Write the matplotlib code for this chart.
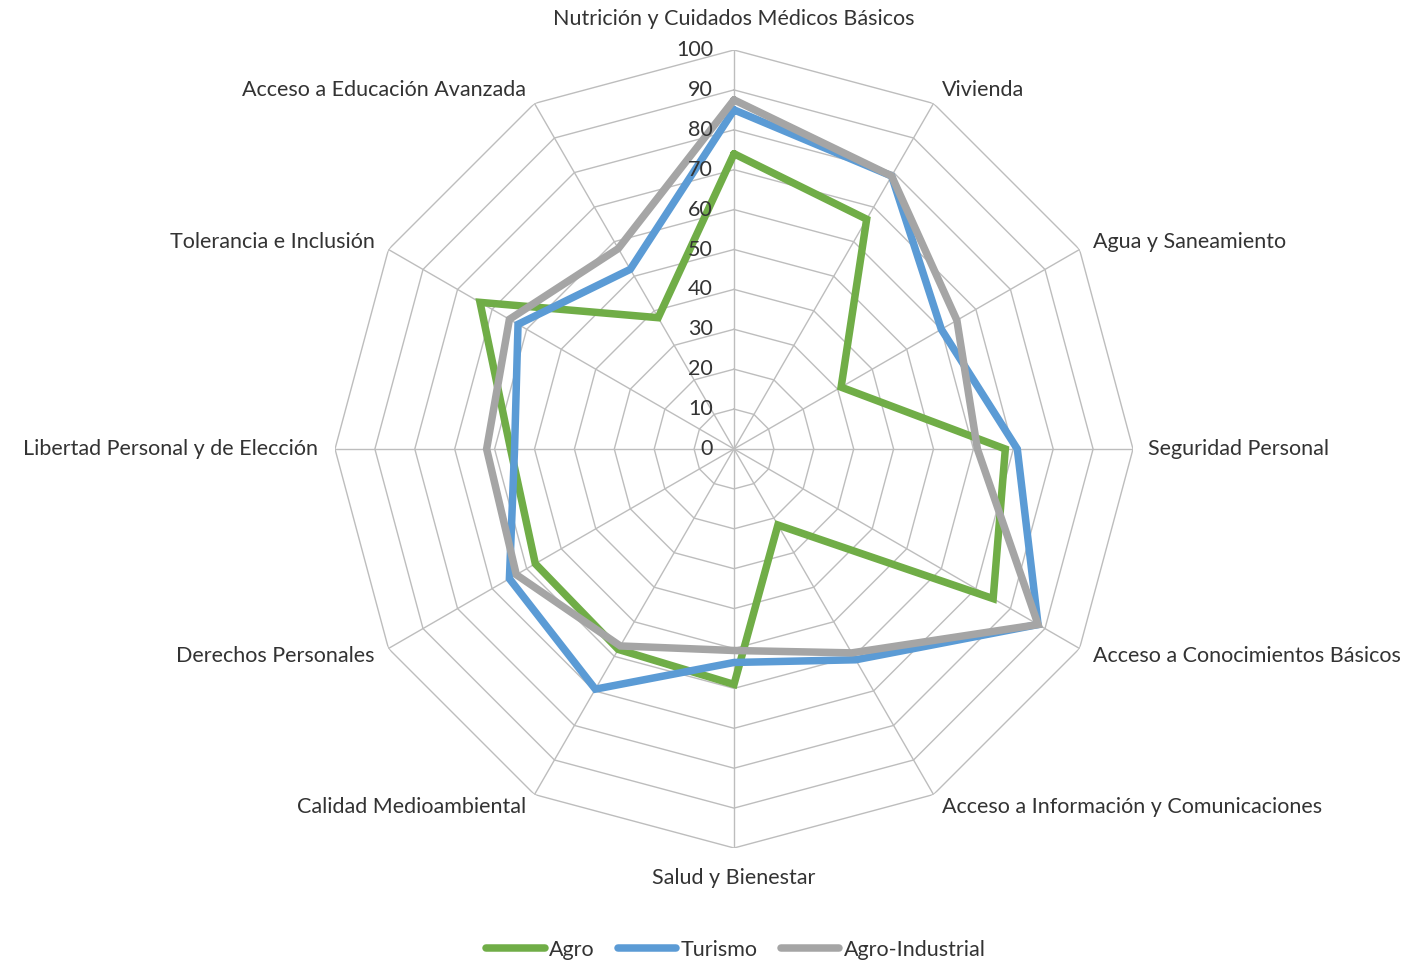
import numpy as np
import matplotlib
matplotlib.use('Agg')
import matplotlib.pyplot as plt

plt.rcParams.update({'font.family': ['Lato', 'DejaVu Sans'], 'font.size': 15.5})

categories = ['Nutrición y Cuidados Médicos Básicos', 'Vivienda', 'Agua y Saneamiento',
              'Seguridad Personal', 'Acceso a Conocimientos Básicos',
              'Acceso a Información y Comunicaciones', 'Salud y Bienestar',
              'Calidad Medioambiental', 'Derechos Personales',
              'Libertad Personal y de Elección', 'Tolerancia e Inclusión',
              'Acceso a Educación Avanzada']
agro = [74, 66.5, 31, 68, 75, 22, 59, 58, 57.5, 56, 73.5, 38]
turismo = [85, 79, 60, 71, 88, 61, 53.5, 69.5, 65, 55, 62.5, 52]
agro_ind = [87.5, 79, 64.5, 61, 88, 59, 50.5, 57, 63, 62, 65, 58]
series_names = ['Agro', 'Turismo', 'Agro-Industrial']
colors = ['#70AD47', '#5B9BD5', '#A5A5A5']
levels = list(range(0, 101, 10))

n = len(categories)
theta = np.arange(n) * 2 * np.pi / n
theta_c = np.append(theta, theta[0])

fig = plt.figure(figsize=(14.10, 9.64), dpi=100)
ax = fig.add_axes([335 / 1410, 116 / 964, 798 / 1410, 798 / 964], projection='polar')
ax.set_theta_offset(np.pi / 2)
ax.set_theta_direction(-1)
ax.set_ylim(0, 100)
ax.axis('off')

grid_col = '#BDBDBD'
for lv in levels[1:]:
    ax.plot(theta_c, [lv] * (n + 1), color=grid_col, lw=1.0, zorder=1)
for t in theta:
    ax.plot([t, t], [0, 100], color=grid_col, lw=1.0, zorder=1)

for vals, name, c in zip([agro, turismo, agro_ind], series_names, colors):
    ax.plot(theta_c, vals + vals[:1], color=c, lw=5.4, label=name,
            solid_joinstyle='miter', solid_capstyle='round', zorder=3)

txt_col = '#333333'
for lv in levels:
    ax.annotate(str(lv), (0, lv), xytext=(-21, 0), textcoords='offset pixels',
                ha='right', va='center', color=txt_col)

# label offsets (pixels) and alignment per spoke
offs = [(0, 31), (8, 13), (13, 8), (15, 0), (13, -7), (8, -12),
        (0, -30), (-8, -12), (-14, -7), (-17, 0), (-14, 8), (-8, 13)]
for i, (lab, t) in enumerate(zip(categories, theta)):
    dx, dy = offs[i]
    ha = 'center' if dx == 0 else ('left' if dx > 0 else 'right')
    ax.annotate(lab, (t, 100), xytext=(dx, dy), textcoords='offset pixels',
                ha=ha, va='center', color=txt_col)

leg = fig.legend(loc='center', bbox_to_anchor=(736 / 1410, 14 / 964), ncol=3, frameon=False,
                 handlelength=2.7, handletextpad=0.2, columnspacing=1.1)
for t in leg.get_texts():
    t.set_color(txt_col)

plt.savefig('out.png', dpi=100)
